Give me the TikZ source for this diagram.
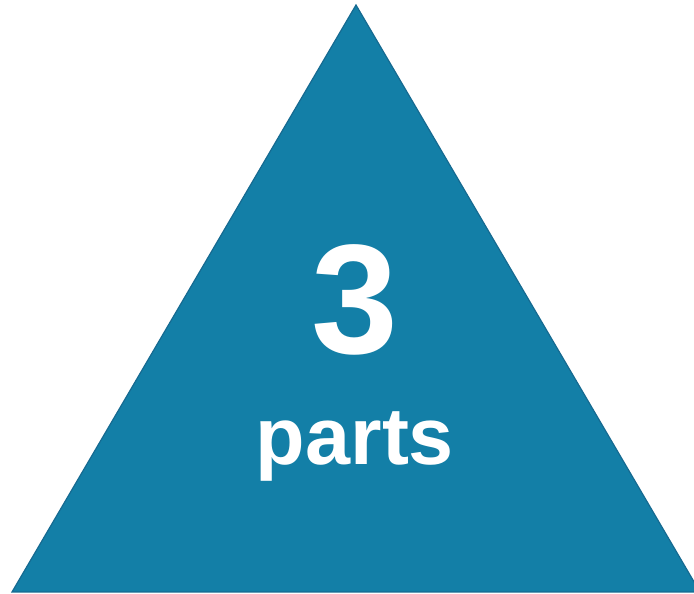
\documentclass[tikz,border=0pt]{standalone}
\usepackage{fontspec}
\setmainfont{Liberation Sans}
\definecolor{trifill}{RGB}{19,127,167}
\definecolor{triedge}{RGB}{22,106,145}
\begin{document}
\begin{tikzpicture}[x=1pt,y=1pt,
  bigtext/.style={text=white,font=\bfseries\fontsize{156}{156}\selectfont,inner sep=0pt,anchor=base},
  smalltext/.style={text=white,font=\bfseries\fontsize{81}{81}\selectfont,inner sep=0pt,anchor=base}]
\useasboundingbox (0,0) rectangle (694,594);
\clip (0,0) rectangle (694,594);
\coordinate (L) at (12,2);
\coordinate (T) at (356,589);
\coordinate (R) at (700,2);
\draw[fill=trifill,draw=triedge,line width=1.2pt,line join=miter] (L) -- (T) -- (R) -- cycle;
\node[bigtext] (num) at (355,240) {3};
\node[smalltext] (lbl) at (355,129) {parts};
\end{tikzpicture}
\end{document}
